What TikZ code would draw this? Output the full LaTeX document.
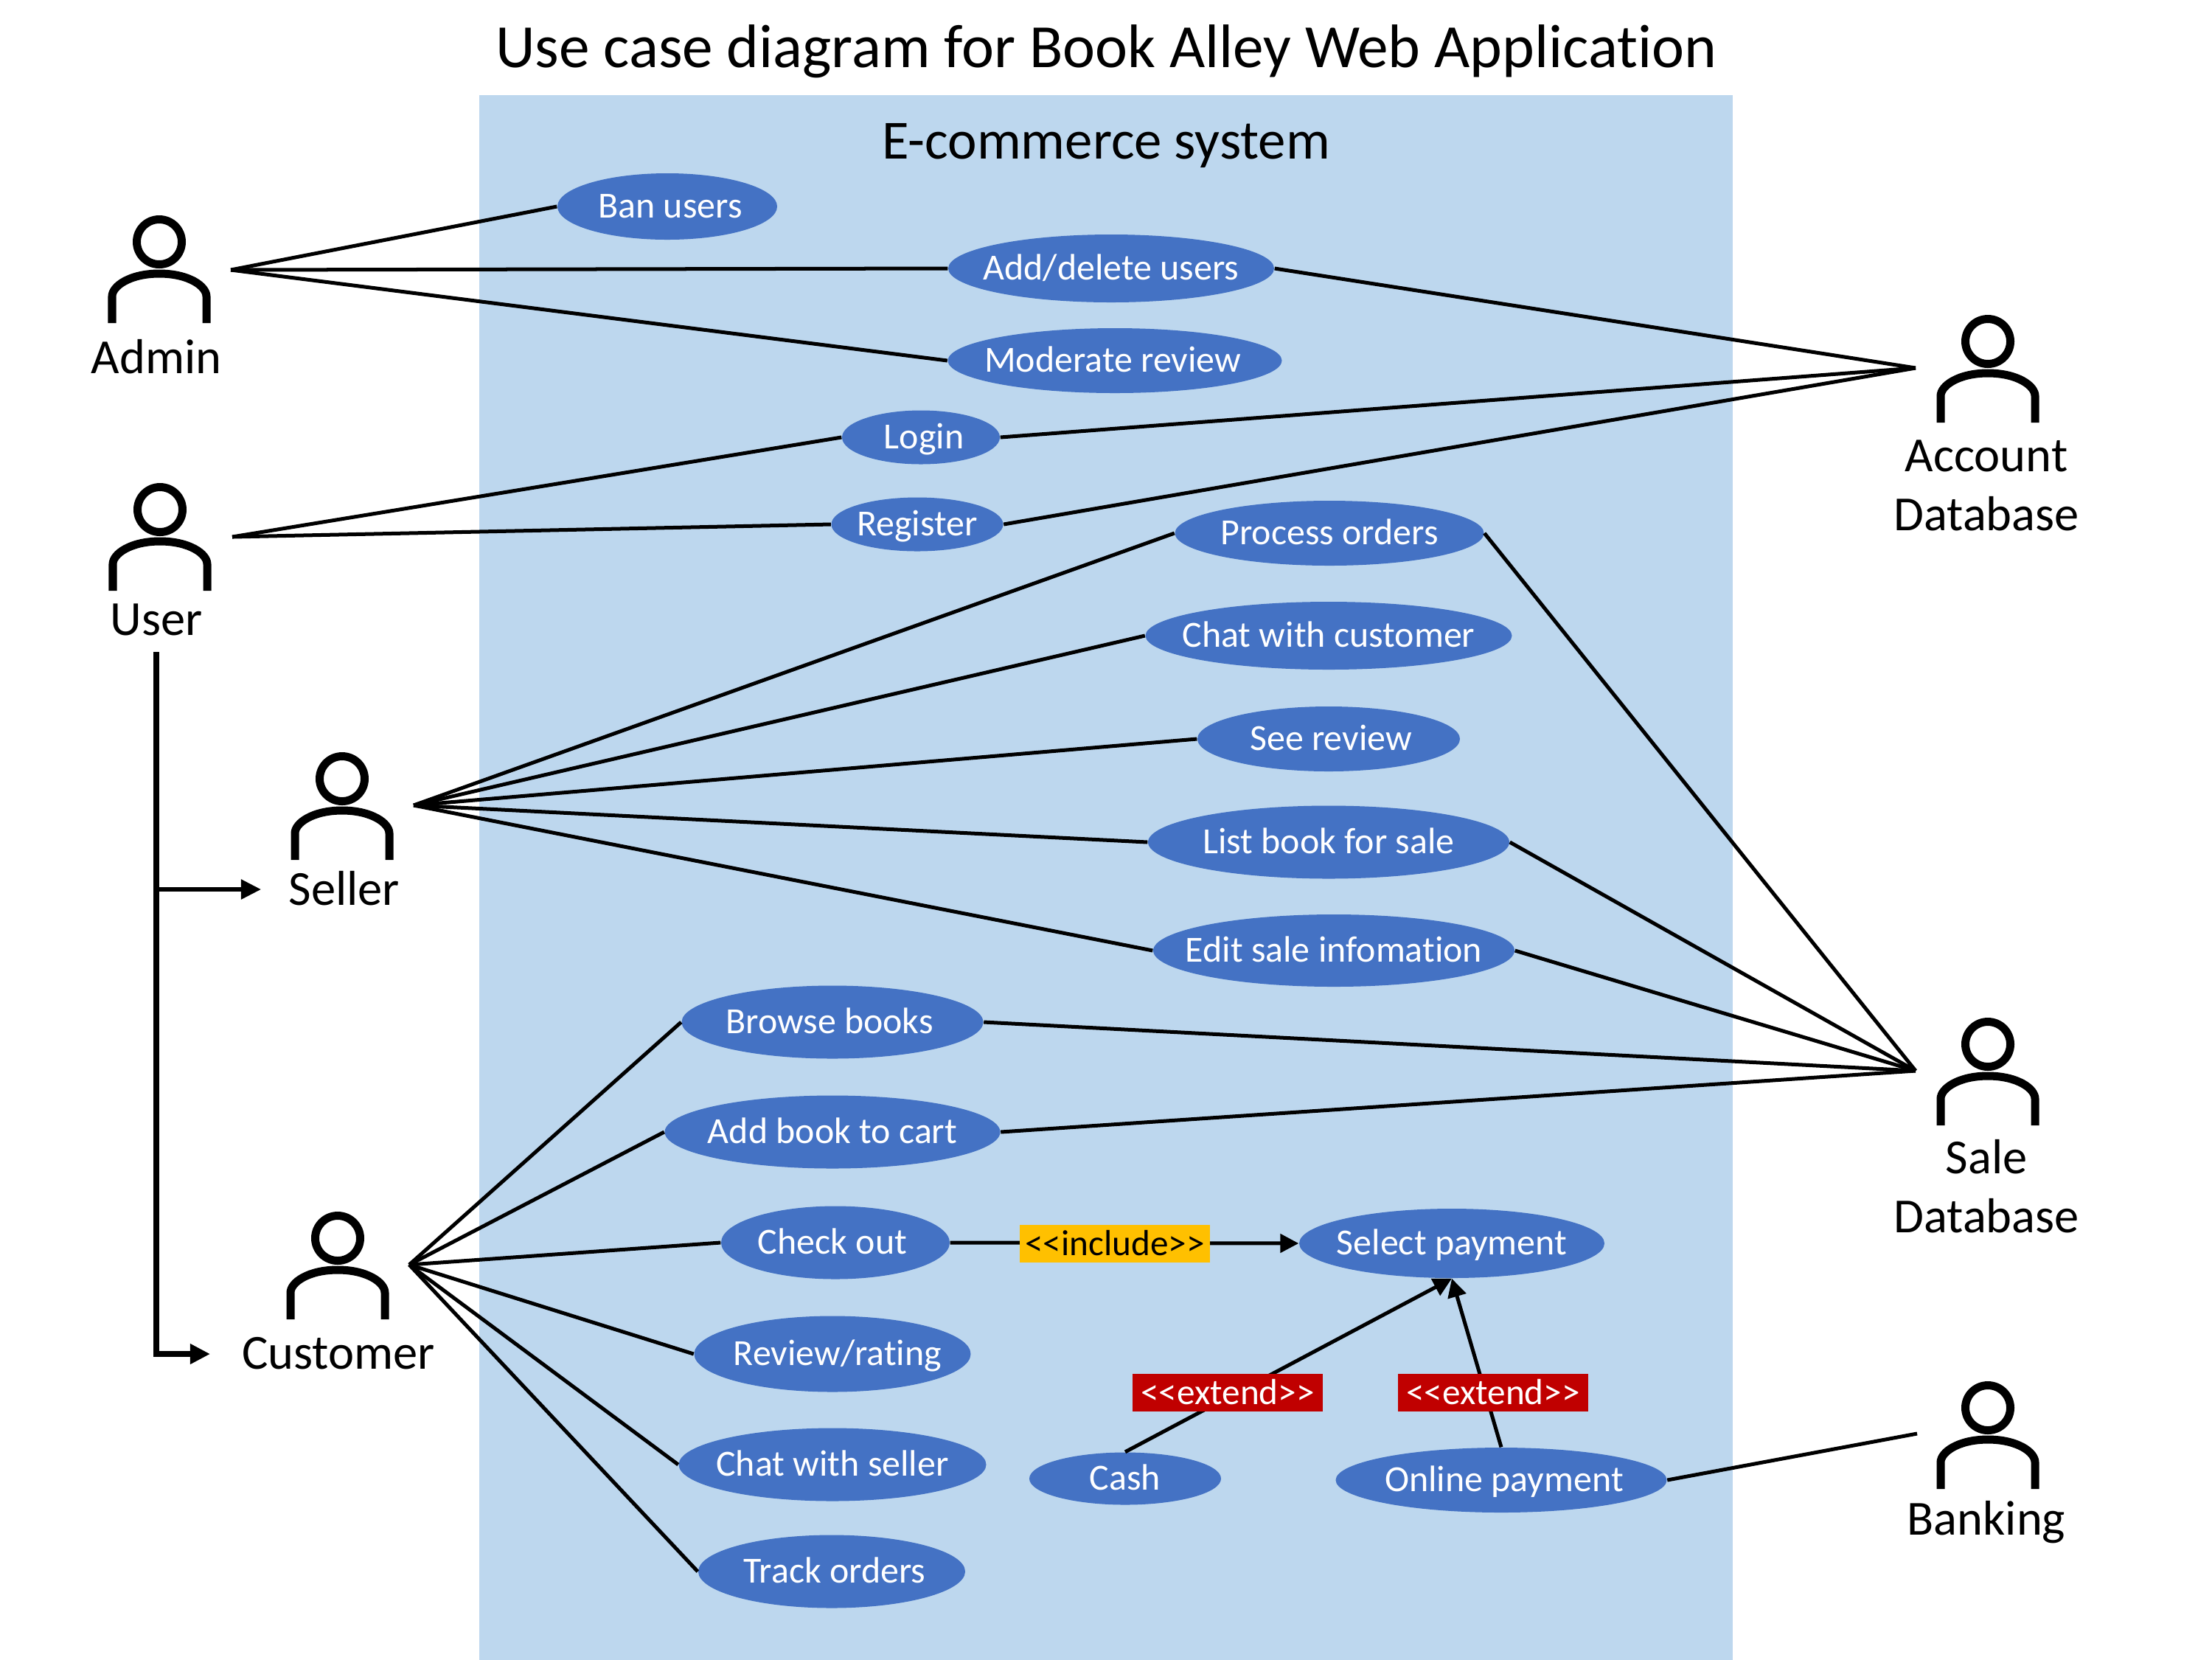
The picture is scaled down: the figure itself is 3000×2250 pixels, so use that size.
\documentclass[tikz,border=0pt]{standalone}
\usepackage{fontspec}
\setmainfont[Ligatures=NoCommon]{Carlito}
\usetikzlibrary{arrows.meta,shapes.geometric}
\definecolor{sysblue}{HTML}{BDD7EE}
\definecolor{ucblue}{HTML}{4472C4}
\definecolor{inclamber}{HTML}{FFC000}
\definecolor{extred}{HTML}{C00000}
\newcommand{\uct}[2][0]{\makebox[0pt]{\rule{0pt}{8.8pt}\kern#1\dimexpr0.02cm\relax\smash{#2}}}

\begin{document}
\begin{tikzpicture}[
  x=0.01cm, y=-0.01cm,
  sys/.style={fill=sysblue, rectangle, inner sep=0pt, minimum width=16.99cm, minimum height=21.2cm},
  uc/.style 2 args={fill=ucblue, ellipse, inner sep=0pt, text=white,
    minimum width=#1*0.01cm, minimum height=#2*0.01cm, font=\fontsize{14.2}{14}\selectfont},
  rel/.style={rectangle, inner sep=0pt, minimum width=2.58cm, minimum height=0.51cm,
    font=\fontsize{14}{14}\selectfont},
  incl/.style={rel, fill=inclamber, text=black},
  ext/.style={rel, fill=extred, text=white},
  lbl/.style={font=\fontsize{18.9}{22.8}\selectfont, align=center},
  ttl/.style={font=\fontsize{23.7}{26}\selectfont},
  ln/.style={line width=0.05cm},
  gen/.style={-{Triangle[length=0.27cm,width=0.26cm]}, line width=0.055cm},
  ar/.style={-{Triangle[length=0.25cm,width=0.25cm]}, line width=0.05cm},
  actor/.pic={
    \draw[line width=0.11cm] (0,0) ellipse (30.5 and 30.5);
    \draw[line width=0.11cm] (-64,110) -- (-64,74) .. controls (-64,60) and (-40,43) .. (0,43)
      .. controls (40,43) and (64,60) .. (64,74) -- (64,110);
  },
]
\useasboundingbox (0,0) rectangle (3000,2250);

%==== Titel en systeemvlak ====
\node[sys] (system) at (1499.5,1190) {};
\node[ttl] (title) at (1500,70) {Use case diagram for Book Alley Web Application};
\node[ttl,font=\fontsize{21.3}{24}\selectfont] (systitle) at (1500,197) {E-commerce system};

%==== Actoren ====
\pic at (216,328) {actor};
\pic at (217,691) {actor};
\pic at (464,1056) {actor};
\pic at (458,1679) {actor};
\pic at (2696,463) {actor};
\pic at (2696,1416) {actor};
\pic at (2696,1909) {actor};
\node[lbl] (adminlbl) at (212,484) {Admin};
\node[lbl] (userlbl)  at (212,840) {User};
\node[lbl] (sellerlbl) at (467,1205) {Seller};
\node[lbl] (custlbl)  at (459,1835) {Customer};
\node[lbl] (acclbl)   at (2694,658) {Account\\Database};
\node[lbl] (salelbl)  at (2694,1609) {Sale\\Database};
\node[lbl] (banklbl)  at (2694,2064) {Banking};
\coordinate (admin) at (313,366);
\coordinate (user) at (315,728);
\coordinate (seller) at (561,1092);
\coordinate (cust) at (555,1715);
\coordinate (account) at (2598,499);
\coordinate (sale) at (2598,1452);
\coordinate (bank) at (2600,1944);
\coordinate (userout) at (212,884);
\coordinate (branch) at (212,1206);
\coordinate (sellerin) at (354,1206);
\coordinate (custin) at (285,1836);

%==== Use cases ====
\node[uc={298}{90}] (ban)    at (905,280)  {\uct[4]{Ban users}};
\node[uc={442}{92}] (adddel) at (1507,364) {\uct{Add/delete users}};
\node[uc={453}{88}] (modrev) at (1512,489) {\uct[-3]{Moderate review}};
\node[uc={214}{73}] (login)  at (1249,593) {\uct[4]{Login}};
\node[uc={233}{73}] (reg)    at (1244,711) {\uct{Register}};
\node[uc={419}{88}] (proc)   at (1803,723) {\uct{Process orders}};
\node[uc={497}{92}] (chatc)  at (1802,862) {\uct{Chat with customer}};
\node[uc={356}{88}] (see)    at (1802,1002) {\uct[3]{See review}};
\node[uc={490}{99}] (list)   at (1802,1142) {\uct{List book for sale}};
\node[uc={490}{98}] (edit)   at (1809,1289) {\uct{Edit sale infomation}};
\node[uc={409}{99}] (browse) at (1129,1386) {\uct[-4]{Browse books}};
\node[uc={455}{99}] (cart)   at (1129,1535) {\uct{Add book to cart}};
\node[uc={310}{99}] (check)  at (1133,1685) {\uct[-4]{Check out}};
\node[uc={375}{103}] (rate)  at (1129,1836) {\uct[7]{Review/rating}};
\node[uc={417}{99}] (chats)  at (1129,1986) {\uct{Chat with seller}};
\node[uc={362}{99}] (track)  at (1128,2131) {\uct[4]{Track orders}};
\node[uc={414}{94}] (select) at (1969,1686) {\uct{Select payment}};
\node[uc={260}{71}] (cash)   at (1526,2005) {\uct{Cash}};
\node[uc={449}{88}] (online) at (2036,2007) {\uct[4]{Online payment}};

%==== Lijnen ====
\draw[ln] (admin) -- (ban.west);
\draw[ln] (admin) -- (adddel.west);
\draw[ln] (admin) -- (modrev.west);
\draw[ln] (user) -- (login.west);
\draw[ln] (user) -- (reg.west);
\draw[ln] (adddel.east) -- (account);
\draw[ln] (login.east) -- (account);
\draw[ln] (reg.east) -- (account);
\foreach \uc in {proc,chatc,see,list,edit}
  \draw[ln] (seller) -- (\uc.west);
\foreach \uc in {browse,cart,check,rate,chats,track}
  \draw[ln] (cust) -- (\uc.west);
\foreach \uc in {proc,list,edit,browse,cart}
  \draw[ln] (\uc.east) -- (sale);
\draw[ln] (online.east) -- (bank);

%==== Overerving ====
\draw[gen,line width=0.08cm] (userout) |- (custin);
\draw[gen] (branch) -- (sellerin);

%==== Include / extend ====
\draw[ar] (check.east) -- (select.west);
\draw[ar] (cash.north) -- (select.south);
\draw[ar] (online.north) -- (select.south);
\node[incl] (inclbl) at (1512,1686) {<{}<include>{}>};
\node[ext] (extcash) at (1665,1888) {<{}<extend>{}>};
\node[ext] (extonl)  at (2025,1888) {<{}<extend>{}>};

\end{tikzpicture}
\end{document}
